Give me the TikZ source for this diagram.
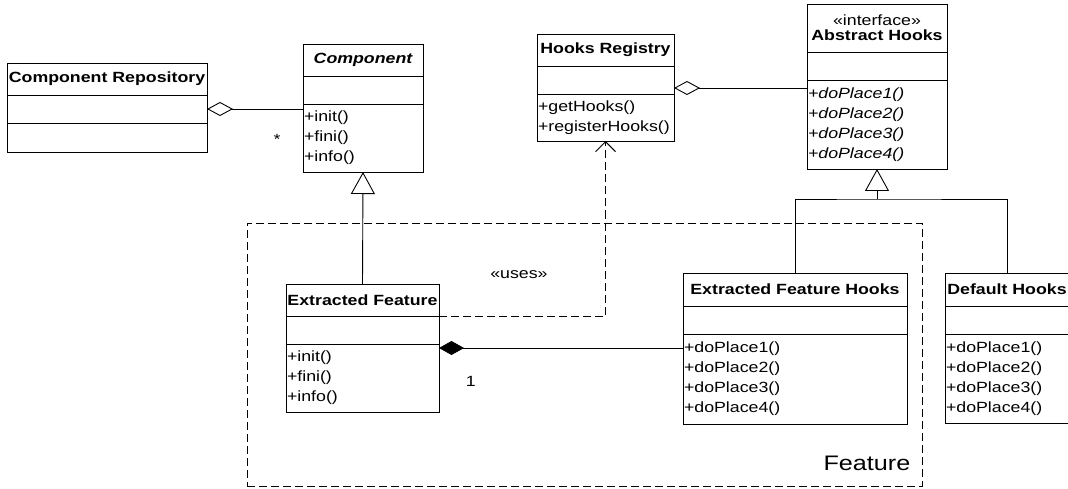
\documentclass[tikz,border=0pt]{standalone}
\usepackage{fontspec}
\setmainfont{Liberation Sans}[FakeStretch=1.2]
\usetikzlibrary{positioning,arrows.meta}

\tikzset{
  head/.style={draw, inner sep=0pt, outer sep=0pt, minimum height=32pt, font=\bfseries, align=center},
  slot/.style={draw, inner sep=0pt, outer sep=0pt, minimum height=28pt},
  ops/.style={draw, inner xsep=1pt, inner ysep=0pt, outer sep=0pt, align=left},
  aggr/.style={{Diamond[open,length=26pt,width=14pt]}-},
  compose/.style={{Diamond[length=25pt,width=14pt]}-},
  inherit/.style={-{Triangle[open,length=22pt,width=24pt]}},
  uses/.style={dash pattern=on 8pt off 4pt, -{Straight Barb[length=10pt,width=20pt]}},
}

\begin{document}
\fontsize{14.8}{20}\selectfont
\begin{tikzpicture}[x=1pt, y=-1pt, line width=0.9pt]
    \useasboundingbox (0,0) rectangle (1068,489);

    % Component Repository
    \node[head, minimum width=200pt, anchor=north west] (crhead) at (7,63) {Component Repository};
    \node[slot, minimum width=200pt, below=0pt of crhead] (crattr) {};
    \node[slot, minimum width=200pt, minimum height=29pt, below=0pt of crattr] (crops) {};

    % Component, abstract
    \node[head, minimum width=120pt, anchor=north west, font=\bfseries\itshape] (comphead) at (303,44) {Component};
    \node[slot, minimum width=120pt, below=0pt of comphead] (compattr) {};
    \node[ops, text width=118pt, minimum height=68pt, below=0pt of compattr] (compops) {+init()\\+fini()\\+info()};

    % Hooks Registry
    \node[head, minimum width=137pt, anchor=north west] (hrhead) at (537,34) {Hooks Registry};
    \node[slot, minimum width=137pt, below=0pt of hrhead] (hrattr) {};
    \node[ops, text width=135pt, minimum height=47pt, below=0pt of hrattr] (hrops) {+getHooks()\\+registerHooks()};

    % Abstract Hooks, the interface
    \node[head, minimum width=140pt, minimum height=48pt, anchor=north west] (ahhead) at (807,4) {{\mdseries «interface»}\\[-5pt]Abstract Hooks};
    \node[slot, minimum width=140pt, below=0pt of ahhead] (ahattr) {};
    \node[ops, text width=138pt, minimum height=89pt, font=\itshape, below=0pt of ahattr] (ahops) {+doPlace1()\\+doPlace2()\\+doPlace3()\\+doPlace4()};

    % the Feature package
    \node[draw, dash pattern=on 8pt off 4pt, line width=0.8pt, minimum width=675pt, minimum height=263pt, anchor=north west] (feature) at (247,223) {};
    \node[font=\fontsize{21}{24}\selectfont, inner sep=0pt, anchor=base east] (featurename) at ([xshift=-12pt,yshift=16pt]feature.south east) {Feature};

    % Extracted Feature
    \node[head, minimum width=153pt, anchor=north west] (efhead) at (286,284) {Extracted Feature};
    \node[slot, minimum width=153pt, below=0pt of efhead] (efattr) {};
    \node[ops, text width=151pt, minimum height=68pt, below=0pt of efattr] (efops) {+init()\\+fini()\\+info()};

    % Extracted Feature Hooks
    \node[head, minimum width=224pt, minimum height=33pt, anchor=north west] (efhhead) at (683,273) {Extracted Feature Hooks};
    \node[slot, minimum width=224pt, below=0pt of efhhead] (efhattr) {};
    \node[ops, text width=222pt, minimum height=90pt, below=0pt of efhattr] (efhops) {+doPlace1()\\+doPlace2()\\+doPlace3()\\+doPlace4()};

    % Default Hooks, runs off the right edge
    \node[head, minimum width=124pt, minimum height=33pt, anchor=north west] (dhhead) at (945,273) {Default Hooks};
    \node[slot, minimum width=124pt, below=0pt of dhhead] (dhattr) {};
    \node[ops, text width=122pt, minimum height=89pt, below=0pt of dhattr] (dhops) {+doPlace1()\\+doPlace2()\\+doPlace3()\\+doPlace4()};

    % aggregations
    \draw[aggr] (crattr.east) -- (crattr.east -| compops.west) node[pos=0.73, below=20pt] {*};
    \coordinate (hrjoin) at ([yshift=-8pt]hrattr.east);
    \draw[aggr] (hrjoin) -- (hrjoin -| ahops.west);

    % composition
    \coordinate (efjoin) at ([yshift=-4pt]efops.north east);
    \draw[compose] (efjoin) -- (efjoin -| efhops.west) node[pos=0.13, below=23pt] {1};

    % generalizations
    \draw[inherit] (efhead.north) -- (compops.south);
    \coordinate (fork) at ([yshift=-30pt]ahops.south);
    \draw[inherit] (fork) -- (ahops.south);
    \draw (efhhead.north) |- (fork) -| (dhhead.north);

    % dependency
    \draw[uses] (efhead.south east) -| (hrops.south) node[pos=0.24, above=32pt] {«uses»};
\end{tikzpicture}
\end{document}
